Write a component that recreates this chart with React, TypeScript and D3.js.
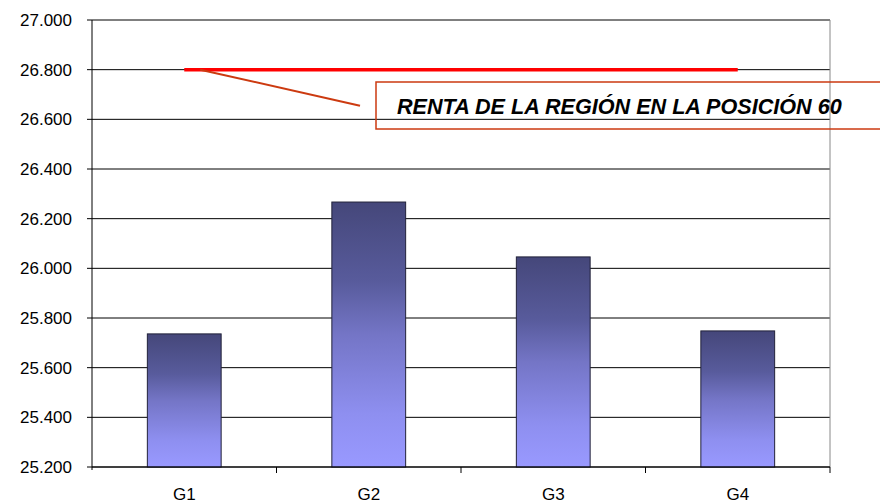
import React from "react";
import * as d3 from "d3";

const categories = ["G1", "G2", "G3", "G4"];
const values = [25.736, 26.267, 26.046, 25.748];
const yTicks = [25.2, 25.4, 25.6, 25.8, 26.0, 26.2, 26.4, 26.6, 26.8, 27.0];
const refValue = 26.8;
const refLabel = "RENTA DE LA REGIÓN EN LA POSICIÓN 60";

// Spanish style thousands: 27.000
const fmt = (v: number) => v.toFixed(3);

export default function App() {
  const W = 880,
    H = 502,
    margin = { top: 20, right: 50, bottom: 35, left: 92 };
  const width = W - margin.left - margin.right,
    height = H - margin.top - margin.bottom;

  const x = d3.scaleBand().domain(categories).range([0, width]).paddingInner(0.6).paddingOuter(0.3);
  const band = d3.scaleBand().domain(categories).range([0, width]);
  const y = d3.scaleLinear().domain([25.2, 27.0]).range([height, 0]);

  const font = "Arial, 'Liberation Sans', sans-serif";

  const grid = yTicks.map((t, i) => (
    <g key={i}>
      <line x1={-5} x2={width} y1={y(t)} y2={y(t)} stroke="#000" strokeWidth={1} />
      <text x={-20} y={y(t)} dy=".35em" textAnchor="end" fontSize={17} fontFamily={font}>
        {fmt(t)}
      </text>
    </g>
  ));

  const bars = categories.map((c, i) => (
    <rect
      key={c}
      x={x(c)}
      y={y(values[i])}
      width={x.bandwidth()}
      height={height - y(values[i])}
      fill="url(#barGrad)"
      stroke="#22223a"
      strokeWidth={1}
    />
  ));

  const catTicks = categories.map((c) => (
    <line key={c} x1={(band(c) as number) + band.bandwidth()} x2={(band(c) as number) + band.bandwidth()} y1={height} y2={height + 6} stroke="#000" />
  ));

  const catLabels = categories.map((c) => (
    <text key={c} x={(band(c) as number) + band.bandwidth() / 2} y={height + 32.5} textAnchor="middle" fontSize={17} fontFamily={font}>
      {c}
    </text>
  ));

  const refY = y(refValue);
  const refX1 = (band("G1") as number) + band.bandwidth() / 2;
  const refX2 = (band("G4") as number) + band.bandwidth() / 2;

  return (
    <svg width={W} height={H} style={{ position: "absolute", left: 0, top: 0, background: "#fff" }}>
      <defs>
        <linearGradient id="barGrad" x1="0" y1="0" x2="0" y2="1">
          <stop offset="0" stopColor="#45477a" />
          <stop offset="0.3" stopColor="#585b9c" />
          <stop offset="0.5" stopColor="#7475c6" />
          <stop offset="0.8" stopColor="#8e8ff0" />
          <stop offset="1" stopColor="#9999ff" />
        </linearGradient>
      </defs>
      <g transform={`translate(${margin.left},${margin.top})`}>
        {grid}
        <line x1={width} x2={width} y1={0} y2={height} stroke="#888" />
        {bars}
        <line x1={0} x2={0} y1={0} y2={height + 3} stroke="#000" />
        <line x1={0} x2={width} y1={height} y2={height} stroke="#000" />
        {catTicks}
        {catLabels}
        <line x1={refX1} x2={refX2} y1={refY} y2={refY} stroke="#ff0000" strokeWidth={3.5} />
        <line x1={refX1 + 16} y1={refY} x2={268} y2={refY + 36} stroke="#cc3a10" strokeWidth={2} />
        <rect x={284} y={62} width={600} height={47} fill="none" stroke="#cc3a10" strokeWidth={1.5} />
        <text x={305} y={93.5} fontSize={21.6} fontWeight="bold" fontStyle="italic" fontFamily={font}>
          {refLabel}
        </text>
      </g>
    </svg>
  );
}
